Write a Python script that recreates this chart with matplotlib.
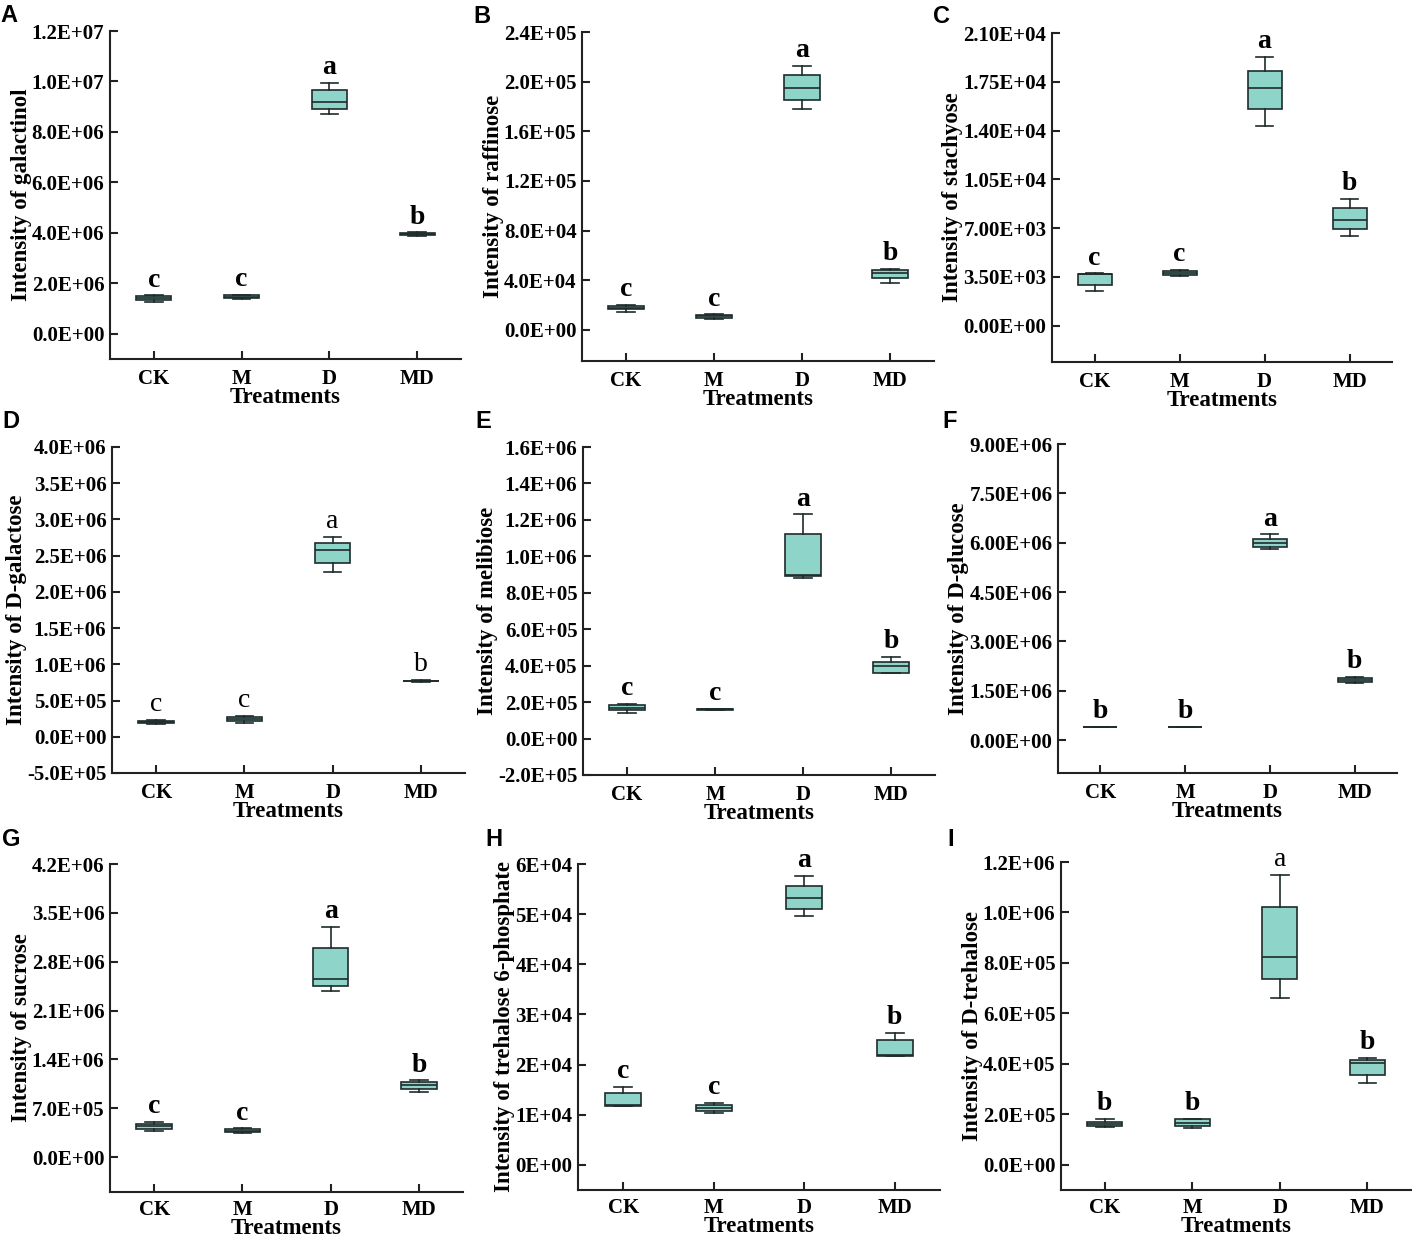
import matplotlib
matplotlib.use('Agg')
import matplotlib.pyplot as plt
from matplotlib.ticker import FuncFormatter

plt.rcParams['font.family'] = 'Liberation Serif'
plt.rcParams['font.weight'] = 'bold'

treatments = ['CK', 'M', 'D', 'MD']

# each row: [whisker low, q1, median, q3, whisker high]
galactinol = [[1.25e6, 1.33e6, 1.42e6, 1.50e6, 1.52e6],
              [1.38e6, 1.41e6, 1.46e6, 1.52e6, 1.55e6],
              [8.70e6, 8.90e6, 9.20e6, 9.65e6, 9.95e6],
              [3.88e6, 3.90e6, 3.95e6, 4.00e6, 4.02e6]]
raffinose = [[1.45e4, 1.65e4, 1.80e4, 1.95e4, 2.00e4],
             [0.90e4, 1.00e4, 1.10e4, 1.20e4, 1.25e4],
             [1.78e5, 1.85e5, 1.95e5, 2.05e5, 2.13e5],
             [3.80e4, 4.20e4, 4.60e4, 4.80e4, 4.90e4]]
stachyose = [[2.51e3, 2.89e3, 3.70e3, 3.73e3, 3.75e3],
             [3.60e3, 3.64e3, 3.80e3, 3.94e3, 4.00e3],
             [1.434e4, 1.554e4, 1.707e4, 1.831e4, 1.927e4],
             [6.43e3, 6.91e3, 7.58e3, 8.46e3, 9.11e3]]
galactose = [[1.80e5, 1.90e5, 2.05e5, 2.20e5, 2.30e5],
             [1.90e5, 2.20e5, 2.50e5, 2.70e5, 2.90e5],
             [2.28e6, 2.40e6, 2.58e6, 2.68e6, 2.76e6],
             [7.60e5, 7.65e5, 7.70e5, 7.75e5, 7.80e5]]
melibiose = [[1.40e5, 1.55e5, 1.70e5, 1.85e5, 1.90e5],
             [1.58e5, 1.59e5, 1.60e5, 1.61e5, 1.62e5],
             [8.80e5, 8.90e5, 8.95e5, 1.12e6, 1.23e6],
             [3.60e5, 3.62e5, 4.00e5, 4.20e5, 4.50e5]]
glucose = [[3.95e5, 3.98e5, 4.00e5, 4.02e5, 4.05e5],
           [3.90e5, 3.95e5, 4.00e5, 4.05e5, 4.10e5],
           [5.80e6, 5.88e6, 5.98e6, 6.12e6, 6.25e6],
           [1.75e6, 1.78e6, 1.83e6, 1.88e6, 1.92e6]]
sucrose = [[3.80e5, 4.00e5, 4.40e5, 4.80e5, 5.10e5],
           [3.50e5, 3.60e5, 3.80e5, 4.00e5, 4.10e5],
           [2.38e6, 2.45e6, 2.55e6, 3.00e6, 3.30e6],
           [9.30e5, 9.80e5, 1.03e6, 1.08e6, 1.10e6]]
t6p = [[1.17e4, 1.18e4, 1.20e4, 1.43e4, 1.55e4],
       [1.03e4, 1.07e4, 1.13e4, 1.19e4, 1.23e4],
       [4.96e4, 5.11e4, 5.32e4, 5.57e4, 5.76e4],
       [2.17e4, 2.18e4, 2.19e4, 2.49e4, 2.63e4]]
trehalose = [[1.50e5, 1.55e5, 1.60e5, 1.70e5, 1.82e5],
             [1.45e5, 1.55e5, 1.65e5, 1.80e5, 1.83e5],
             [6.60e5, 7.35e5, 8.25e5, 1.02e6, 1.15e6],
             [3.25e5, 3.55e5, 4.05e5, 4.15e5, 4.25e5]]

letters = {
    'galactinol': ['c', 'c', 'a', 'b'],
    'raffinose': ['c', 'c', 'a', 'b'],
    'stachyose': ['c', 'c', 'a', 'b'],
    'galactose': ['c', 'c', 'a', 'b'],
    'melibiose': ['c', 'c', 'a', 'b'],
    'glucose': ['b', 'b', 'a', 'b'],
    'sucrose': ['c', 'c', 'a', 'b'],
    't6p': ['c', 'c', 'a', 'b'],
    'trehalose': ['b', 'b', 'a', 'b'],
}

# panel: (tag, data, key, ylabel, yticks start/stop/step, tick fmt, ylim, axes px box, letter bold)
panels = [
    ('A', galactinol, 'galactinol', 'Intensity of galactinol', (0, 1.2e7, 2e6), '{:.1E}', (-1.0e6, 1.2e7),
     (110, 31, 461, 359), [True] * 4),
    ('B', raffinose, 'raffinose', 'Intensity of raffinose', (0, 2.4e5, 4e4), '{:.1E}', (-2.5e4, 2.4e5),
     (582, 32, 934, 361), [True] * 4),
    ('C', stachyose, 'stachyose', 'Intensity of stachyose', (0, 2.1e4, 3.5e3), '{:.2E}', (-2.6e3, 2.1e4),
     (1052, 33, 1392, 362), [True] * 4),
    ('D', galactose, 'galactose', 'Intensity of D-galactose', (-5e5, 4e6, 5e5), '{:.1E}', (-5e5, 4e6),
     (112, 447, 465, 773), [False] * 4),
    ('E', melibiose, 'melibiose', 'Intensity of melibiose', (-2e5, 1.6e6, 2e5), '{:.1E}', (-2e5, 1.6e6),
     (583, 447, 935, 775), [True] * 4),
    ('F', glucose, 'glucose', 'Intensity of D-glucose', (0, 9e6, 1.5e6), '{:.2E}', (-1.0e6, 9e6),
     (1058, 444, 1397, 773), [True] * 4),
    ('G', sucrose, 'sucrose', 'Intensity of sucrose', (0, 4.2e6, 7e5), '{:.1E}', (-5e5, 4.2e6),
     (110, 864, 463, 1192), [True] * 4),
    ('H', t6p, 't6p', 'Intensity of trehalose 6-phosphate', (0, 6e4, 1e4), '{:.0E}', (-5e3, 6e4),
     (578, 864, 940, 1190), [True] * 4),
    ('I', trehalose, 'trehalose', 'Intensity of D-trehalose', (0, 1.2e6, 2e5), '{:.1E}', (-1.0e5, 1.2e6),
     (1061, 862, 1411, 1190), [True, True, False, True]),
]

tag_pos = {'A': (0, 4), 'B': (473, 5), 'C': (933, 5), 'D': (2, 410), 'E': (475, 410),
           'F': (942, 410), 'G': (2, 828), 'H': (485, 828), 'I': (947, 828)}

W, H = 1412, 1241
fig = plt.figure(figsize=(W / 100, H / 100), dpi=100)

box_color = '#8fd4c9'
edge = '#1e2b2b'

for tag, data, key, ylabel, (t0, t1, ts), fmt, ylim, (l, t, r, b), bold in panels:
    bottom_row = b > 1150
    ax = fig.add_axes([l / W, 1 - b / H, (r - l) / W, (b - t) / H])
    stats = []
    for name, (lo, q1, med, q3, hi) in zip(treatments, data):
        stats.append(dict(label=name, whislo=lo, q1=q1, med=med, q3=q3, whishi=hi, fliers=[]))
    ax.bxp(stats, positions=[1, 2, 3, 4], widths=0.4, patch_artist=True, showfliers=False,
           boxprops=dict(facecolor=box_color, edgecolor=edge, linewidth=1.2),
           medianprops=dict(color=edge, linewidth=1.2),
           whiskerprops=dict(color=edge, linewidth=1.2),
           capprops=dict(color=edge, linewidth=1.2), capwidths=0.2)
    ax.set_xlim(0.5, 4.5)
    ax.set_ylim(*ylim)
    n = int(round((t1 - t0) / ts))
    ax.set_yticks([t0 + i * ts for i in range(n + 1)])
    ax.yaxis.set_major_formatter(FuncFormatter(lambda v, p, f=fmt: f.format(v)))
    ax.set_xticks([1, 2, 3, 4])
    ax.set_xticklabels(treatments)
    for s in ['top', 'right']:
        ax.spines[s].set_visible(False)
    for s in ['left', 'bottom']:
        ax.spines[s].set_linewidth(1.5)
        ax.spines[s].set_color('#222222')
    ax.tick_params(direction='in', length=6, width=1.5, labelsize=15, color='#222222')
    ax.tick_params(axis='x', pad=6 if bottom_row else 7)
    ax.tick_params(axis='y', pad=4)
    for lab in ax.get_xticklabels() + ax.get_yticklabels():
        lab.set_fontweight('bold')
    ax.set_ylabel(ylabel, fontsize=16.5, fontweight='bold', labelpad=0)
    ax.set_xlabel('Treatments', fontsize=16.5, fontweight='bold',
                  labelpad=-2 if bottom_row else -1)
    for i, (row, let) in enumerate(zip(data, letters[key])):
        ax.annotate(let, (i + 1, row[4]), xytext=(0, 2), textcoords='offset points',
                    ha='center', va='bottom', fontsize=20,
                    fontweight='bold' if bold[i] else 'normal')
    tx, ty = tag_pos[tag]
    fig.text(tx / W, 1 - ty / H, tag, fontsize=17, fontweight='bold',
             family='Liberation Sans', ha='left', va='top')

fig.savefig('out.png', dpi=100)
